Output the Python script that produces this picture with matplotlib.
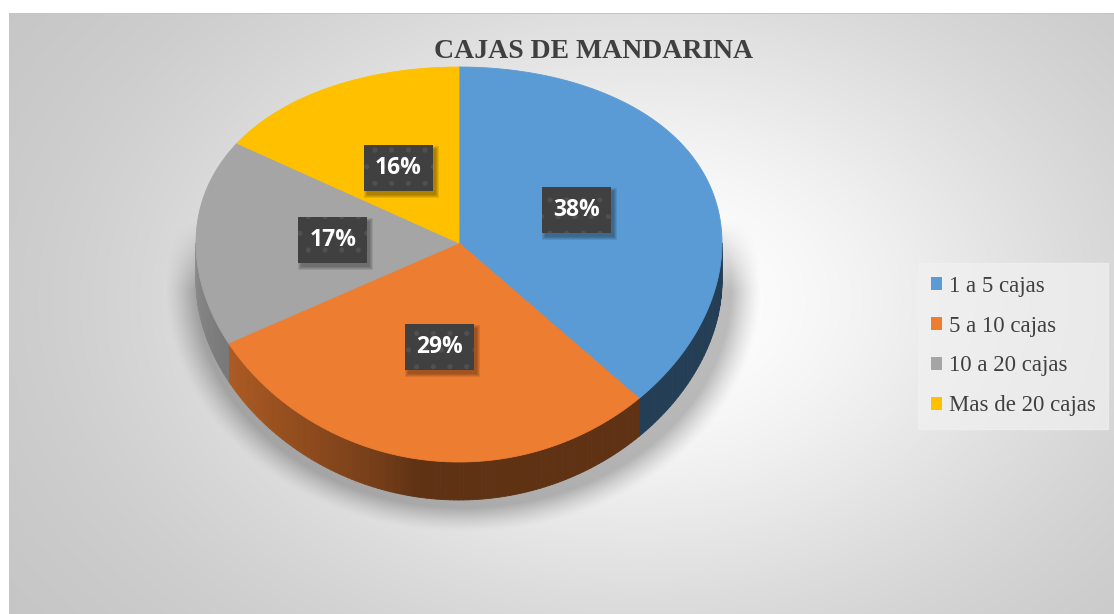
import numpy as np
import matplotlib
matplotlib.use("Agg")
import matplotlib.pyplot as plt
from matplotlib.collections import PolyCollection
from matplotlib.patches import Patch, Rectangle

# ---- data ------------------------------------------------------------------
categories = ["1 a 5 cajas", "5 a 10 cajas", "10 a 20 cajas", "Mas de 20 cajas"]
shares = [38, 29, 17, 16]
pct_labels = ["38%", "29%", "17%", "16%"]
colors = ["#5b9bd5", "#ed7d31", "#a5a5a5", "#ffc000"]
title = "CAJAS DE MANDARINA"

# ---- geometry (pixel space, y grows downward) -------------------------------
W, H = 1114, 614
CX, CY = 459, 243          # pie centre on the top face
RX = 263                   # horizontal radius
RY_MID, RY_TILT = 197.5, 21.5   # far half flatter than near half (perspective)
DEPTH = 38
LABEL_R = 0.48
TEXT = "#404040"

plt.rcParams["hatch.linewidth"] = 1.3


def rim(t, r=1.0):
    ry = RY_MID - RY_TILT * np.sin(t)
    return CX + r * RX * np.cos(t), CY - r * ry * np.sin(t)


def rgb(hexcol):
    return np.array(matplotlib.colors.to_rgb(hexcol))


def side_shade(t):
    # left part of the rim catches light, the front/right falls into shade
    u = np.degrees(t)
    k = np.clip((-u - 100) / 80, 0, 1) ** 0.7
    return 0.4 + 0.45 * k


# slice boundaries, starting at 12 o'clock and running clockwise
frac = np.array(shares, dtype=float) / np.sum(shares)
bounds = np.pi / 2 - 2 * np.pi * np.concatenate([[0], np.cumsum(frac)])

# ---- background: radial grey gradient + soft shadow under the pie ----------
yy, xx = np.mgrid[0:H, 0:W].astype(float)
e = np.sqrt(((xx - 640) / 600) ** 2 + ((yy - 300) / 420) ** 2)
v = 1 - 0.24 * (1 - np.exp(-1.6 * e ** 2))

es = np.sqrt(((xx - 463) / 276) ** 2 + ((yy - 288) / 226) ** 2)
sh = np.clip((1.08 - es) / 0.11, 0, 1) ** 1.3
sh *= np.clip((yy - 220) / 70, 0, 1)
v = v * (1 - 0.26 * sh)

frame = (xx >= 9) & (yy >= 13)
v = np.where(frame, v, 1.0)
v[13, 9:] = np.minimum(v[13, 9:], 0.78)
img = np.dstack([v, v, v])

fig = plt.figure(figsize=(W / 100, H / 100), dpi=100)
ax = fig.add_axes([0, 0, 1, 1])
ax.imshow(img, extent=(0, W, H, 0), aspect="auto", interpolation="bilinear", zorder=0)
ax.set_xlim(0, W)
ax.set_ylim(H, 0)
ax.axis("off")

# ---- pie side (only the near half is visible) -------------------------------
polys, pcols = [], []
for i in range(len(shares)):
    a, b = bounds[i + 1], bounds[i]
    lo, hi = max(a, -np.pi), min(b, 0.0)
    if hi <= lo:
        continue
    ts = np.linspace(lo, hi, max(2, int(np.degrees(hi - lo)) + 1))
    for t0, t1 in zip(ts[:-1], ts[1:]):
        x0, y0 = rim(t0)
        x1, y1 = rim(t1)
        polys.append([(x0, y0), (x1, y1), (x1, y1 + DEPTH), (x0, y0 + DEPTH)])
        pcols.append(rgb(colors[i]) * side_shade(0.5 * (t0 + t1)))
ax.add_collection(PolyCollection(polys, facecolors=pcols, edgecolors=pcols,
                                 linewidths=0.6, zorder=2))

# ---- pie top face -----------------------------------------------------------
for i in range(len(shares)):
    ts = np.linspace(bounds[i], bounds[i + 1], 200)
    xs, ys = rim(ts)
    ax.fill(np.r_[CX, xs], np.r_[CY, ys], color=colors[i], lw=0.6,
            ec=colors[i], zorder=3)

# ---- data labels ------------------------------------------------------------
label_texts = []
for i, lab in enumerate(pct_labels):
    m = 0.5 * (bounds[i] + bounds[i + 1])
    lx, ly = rim(m, LABEL_R)
    t = ax.text(lx, ly, lab, ha="center", va="center", fontsize=16.5,
                family="Open Sans", weight="bold", color="white", zorder=5,
                bbox=dict(boxstyle="square,pad=0.48", fc="#404040", ec="#505050",
                          lw=0, hatch="."))
    label_texts.append(t)

# soft drop shadow behind each label box
fig.canvas.draw()
inv = ax.transData.inverted()
for t in label_texts:
    bb = t.get_bbox_patch().get_window_extent()
    (x0, y1), (x1, y0) = inv.transform([(bb.x0, bb.y0), (bb.x1, bb.y1)])
    for k in range(4):
        ax.add_patch(Rectangle((x0 + 3 - k, y0 + 4 - k), (x1 - x0) + 2 * k,
                               (y1 - y0) + 2 * k, fc="black", ec="none",
                               alpha=0.09, zorder=4))

# ---- title and legend -------------------------------------------------------
ax.text(594, 51, title, ha="center", va="center", fontsize=20,
        family="Liberation Serif", weight="bold", color=TEXT, zorder=5)

handles = [Patch(facecolor=c, edgecolor="none", label=l)
           for c, l in zip(colors, categories)]
leg = ax.legend(handles=handles, loc="center left",
                bbox_to_anchor=(918 / W, 1 - 346 / H),
                prop={"family": "Liberation Serif", "size": 16.5},
                labelcolor=TEXT, handlelength=0.5, handleheight=0.5,
                handletextpad=0.3, labelspacing=0.82, borderpad=0.55,
                borderaxespad=0, fancybox=False, frameon=True)
leg.get_frame().set_facecolor("#f1f1f1")
leg.get_frame().set_edgecolor("#f1f1f1")
leg.get_frame().set_alpha(0.7)
leg.set_zorder(6)

fig.savefig("out.png", dpi=100)
plt.close(fig)
